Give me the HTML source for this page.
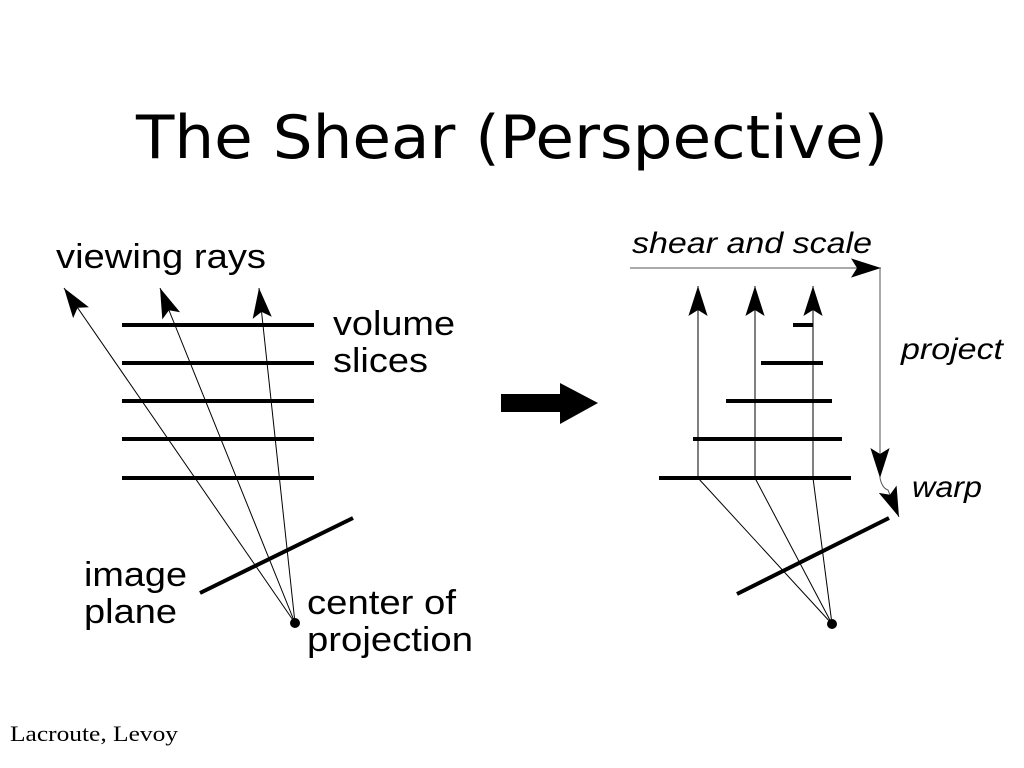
<!DOCTYPE html>
<html><head><meta charset="utf-8"><style>
html,body{margin:0;padding:0;background:#fff;width:1024px;height:768px;overflow:hidden}
</style></head><body>
<svg width="1024" height="768" viewBox="0 0 1024 768" xmlns="http://www.w3.org/2000/svg">
<defs>
<marker id="ah" viewBox="0 0 10 10" refX="10" refY="5" markerWidth="30" markerHeight="30" markerUnits="userSpaceOnUse" orient="auto">
<path d="M0,1.8 L10,5 L0,8.2 L2,5 Z" fill="#000"/>
</marker>
</defs>
<text x="512" y="158" text-anchor="middle" font-family="DejaVu Sans, sans-serif" font-size="60" textLength="752" lengthAdjust="spacingAndGlyphs">The Shear (Perspective)</text>

<g font-family="Liberation Sans, sans-serif" font-size="34">
<text x="56" y="268" textLength="210" lengthAdjust="spacingAndGlyphs">viewing rays</text>
<text x="333" y="335" textLength="122" lengthAdjust="spacingAndGlyphs">volume</text>
<text x="333" y="372" textLength="95" lengthAdjust="spacingAndGlyphs">slices</text>
<text x="84" y="586" textLength="103" lengthAdjust="spacingAndGlyphs">image</text>
<text x="84" y="623" textLength="93" lengthAdjust="spacingAndGlyphs">plane</text>
<text x="307" y="614" textLength="149" lengthAdjust="spacingAndGlyphs">center of</text>
<text x="307" y="651" textLength="166" lengthAdjust="spacingAndGlyphs">projection</text>
</g>
<g stroke="#000" stroke-width="4">
<line x1="122" y1="325" x2="314" y2="325"/>
<line x1="122" y1="363" x2="314" y2="363"/>
<line x1="122" y1="401" x2="314" y2="401"/>
<line x1="122" y1="439" x2="314" y2="439"/>
<line x1="122" y1="478" x2="314" y2="478"/>
<line x1="200" y1="593" x2="353" y2="518"/>
</g>
<g stroke="#000" stroke-width="1">
<line x1="295" y1="623" x2="64" y2="288" marker-end="url(#ah)"/>
<line x1="295" y1="623" x2="160" y2="288" marker-end="url(#ah)"/>
<line x1="295" y1="623" x2="259" y2="288" marker-end="url(#ah)"/>
</g>
<circle cx="295" cy="623" r="5" fill="#000"/>

<path d="M501,394 H560 V383 L598,403 L560,424 V412 H501 Z" fill="#000"/>

<g font-family="Liberation Sans, sans-serif" font-size="30" font-style="italic">
<text x="632" y="253" textLength="240" lengthAdjust="spacingAndGlyphs">shear and scale</text>
<text x="901" y="359" textLength="102" lengthAdjust="spacingAndGlyphs">project</text>
<text x="912" y="497" textLength="70" lengthAdjust="spacingAndGlyphs">warp</text>
</g>
<g stroke="#000" stroke-width="4">
<line x1="793" y1="325" x2="813" y2="325"/>
<line x1="761" y1="363" x2="823" y2="363"/>
<line x1="726" y1="401" x2="832" y2="401"/>
<line x1="693" y1="439" x2="842" y2="439"/>
<line x1="659" y1="478" x2="851" y2="478"/>
<line x1="737" y1="594" x2="889" y2="518"/>
</g>
<g stroke="#000" stroke-width="1" fill="none">
<line x1="698" y1="478" x2="698" y2="286" marker-end="url(#ah)"/>
<line x1="755" y1="478" x2="755" y2="286" marker-end="url(#ah)"/>
<line x1="813" y1="478" x2="813" y2="286" marker-end="url(#ah)"/>
<line x1="698" y1="478" x2="832" y2="624"/>
<line x1="755" y1="478" x2="832" y2="624"/>
<line x1="813" y1="478" x2="832" y2="624"/>
<line x1="630" y1="268" x2="881" y2="268" stroke="#555" marker-end="url(#ah)"/>
<line x1="880" y1="268" x2="880" y2="478" stroke="#555" marker-end="url(#ah)"/>
<path d="M880,478 Q882,488 888,490 L899,517" stroke="#555" marker-end="url(#ah)"/>
</g>
<circle cx="832" cy="624" r="5" fill="#000"/>

<text x="10" y="741" font-family="Liberation Serif, serif" font-size="22" textLength="168" lengthAdjust="spacingAndGlyphs">Lacroute, Levoy</text>
</svg>
</body></html>
